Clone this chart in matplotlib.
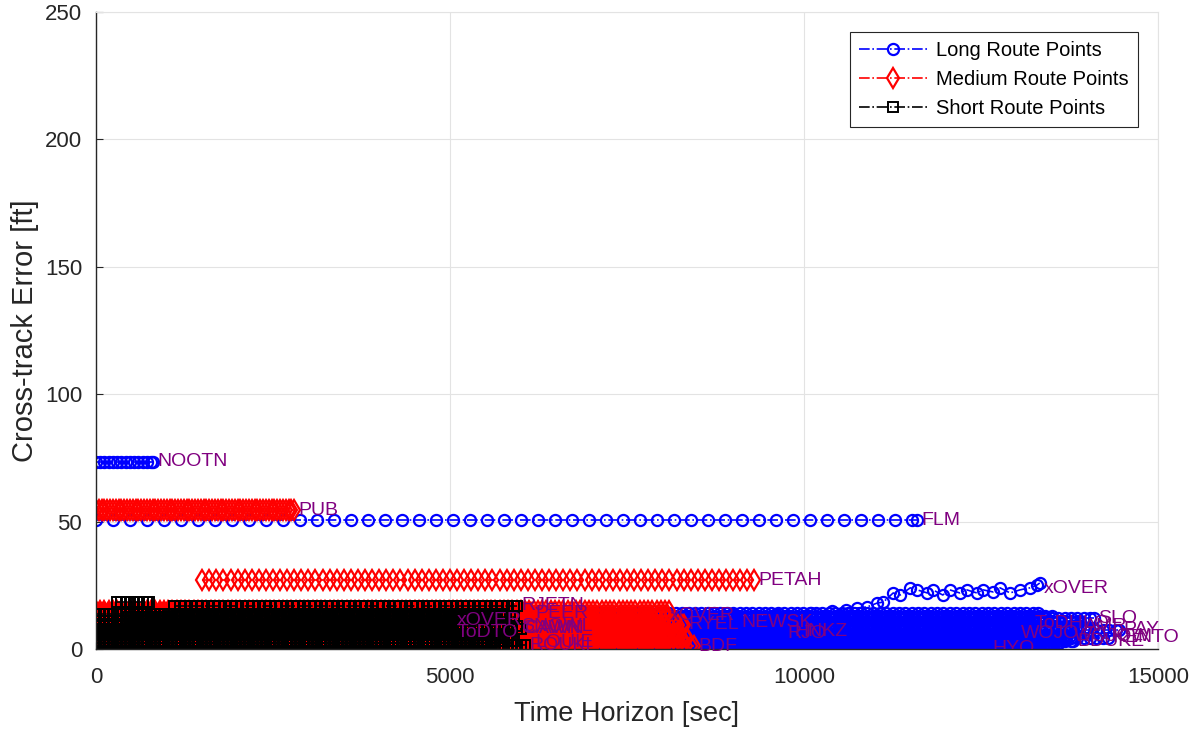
import numpy as np
import matplotlib
matplotlib.use("Agg")
import matplotlib.pyplot as plt
from matplotlib.lines import Line2D

plt.rcParams['font.family'] = ['Liberation Sans', 'DejaVu Sans']

# ---------------- data ----------------
# Long routes: start time, end time, cross-track error level, sample interval, end waypoint
long_t0 = [0, 0, 0, 0, 0, 0, 0, 0, 0, 0, 0, 0, 0, 0, 0, 0, 0, 0, 0, 0, 0]
long_t1 = [800, 11600, 14100, 13200, 13900, 14450, 9800, 9050, 9700, 13000, 13750, 14300,
           13800, 12600, 13300, 13000, 13900, 14000, 13600, 13700, 13500]
long_y = [73.5, 50.5, 12.0, 10.0, 9.0, 7.5, 7.0, 10.5, 6.0, 6.2, 5.0, 4.5,
          3.0, 0.3, 14.0, 1.5, 11.0, 8.3, 2.2, 3.8, 13.0]
long_dt = [60, 240] + [90] * 19
long_label = ['NOOTN', 'FLM', 'SLO', 'ToDHLO', 'AMR', 'PAY', 'HNKZ', 'NEWSK', 'RJO',
              'WOJO', 'WOJOW', 'KENTO', 'BDUKE', 'HYQ', '', '', '', '', '', '', '']

# Long route that drifts off track before its xOVER end point
xover_t = [0, 2000, 4000, 6000, 8000, 9000, 9600, 10100, 10400, 10600, 10750, 10890, 11030,
           11120, 11260, 11360, 11500, 11600, 11740, 11820, 11960, 12060, 12200, 12300,
           12440, 12530, 12670, 12770, 12910, 13050, 13190, 13290, 13330]
xover_y = [13.0, 13.0, 13.0, 13.0, 13.2, 13.5, 13.8, 14.2, 14.8, 15.5, 16.1, 16.5, 18.0,
           18.4, 22.0, 21.2, 24.0, 23.2, 22.0, 23.2, 21.2, 23.2, 22.0, 23.2,
           22.0, 23.2, 22.4, 24.0, 22.0, 23.2, 24.0, 25.1, 25.9]

# Medium routes
med_t0 = [0, 1500, 0, 0, 0, 0, 0, 0, 0, 0, 0, 0, 0, 0, 0]
med_t1 = [2800, 9300, 6150, 8050, 8300, 8450, 7900, 8000, 8200, 8100, 5950, 6150, 8100, 8250, 8350]
med_y = [54.5, 27.0, 14.0, 13.0, 9.5, 1.0, 11.0, 7.5, 5.5, 3.5, 8.0, 2.5, 15.0, 6.5, 4.5]
med_dt = [40, 100] + [60] * 13
med_label = ['PUB', 'PETAH', 'PEER', 'xOVER', 'RYEL', 'BDF', '', '', '', '', 'CAWN', 'LOUIE',
             '', '', '']

# Short routes
short_t0 = [300, 1100, 0, 450, 0, 0, 0, 0, 0, 0, 0, 0, 0, 0]
short_t1 = [750, 5950, 5030, 5900, 5030, 5950, 6000, 5800, 5900, 6060, 5700, 5600, 5850, 5750]
short_y = [18.3, 17.0, 11.0, 12.5, 6.5, 9.0, 8.0, 4.5, 3.0, 1.5, 10.0, 2.2, 5.5, 13.8]
short_dt = [60, 80] + [60] * 12
short_label = ['', 'RJETN', 'xOVER', '', 'ToDTO', 'SNOWL', 'CAWN', '', '', 'ROUKI', '', '', '', '']

series_names = ['Long Route Points', 'Medium Route Points', 'Short Route Points']

# ---------------- figure ----------------
W, H = 1198, 729
fig = plt.figure(figsize=(W / 100, H / 100), dpi=100)
ax = fig.add_axes([96 / W, 1 - 649 / H, (1158 - 96) / W, (649 - 12) / H])

label_color = '#800080'
styles = {
    'long': dict(color='#0000ff', marker='o', ms=8, mfc='none', mew=1.6),
    'med': dict(color='#ff0000', marker='d', ms=10, mfc='none', mew=1.6),
    'short': dict(color='#000000', marker='s', ms=6.5, mfc='none', mew=1.4),
}
LABEL_FS = 14


def draw_routes(t0s, t1s, ys, dts, labels, key):
    st = styles[key]
    for t0, t1, y, dt, lab in zip(t0s, t1s, ys, dts, labels):
        t = np.append(np.arange(t0, t1, dt), t1)
        ax.plot(t, np.full(t.shape, y), linestyle='-.', lw=1.2, zorder=2, **st)
        if lab:
            ax.text(t1 + 60, y, lab, color=label_color, fontsize=LABEL_FS, ha='left',
                    va='center', zorder=10, clip_on=(y < 1))


draw_routes(long_t0, long_t1, long_y, long_dt, long_label, 'long')
ax.plot(xover_t, xover_y, linestyle='-.', lw=1.2, zorder=2, **styles['long'])
ax.text(xover_t[-1] + 60, xover_y[-1] - 2.0, 'xOVER', color=label_color, fontsize=LABEL_FS,
        ha='left', va='center', zorder=10)
draw_routes(med_t0, med_t1, med_y, med_dt, med_label, 'med')
draw_routes(short_t0, short_t1, short_y, short_dt, short_label, 'short')

ax.set_xlim(0, 15000)
ax.set_ylim(0, 250)
ax.set_xticks([0, 5000, 10000, 15000])
ax.set_yticks([0, 50, 100, 150, 200, 250])
ax.grid(True, color='#e3e3e3', lw=0.8)
ax.set_axisbelow(True)
ax.tick_params(direction='in', length=5, labelsize=16, colors='#262626')
ax.tick_params(axis='x', pad=13)
ax.tick_params(axis='y', pad=10)
for s in ['left', 'bottom']:
    ax.spines[s].set_color('#262626')
    ax.spines[s].set_linewidth(1.0)
for s in ['top', 'right']:
    ax.spines[s].set_color('#e3e3e3')
ax.set_xlabel('Time Horizon [sec]', fontsize=19.5, color='#262626', labelpad=9)
ax.set_ylabel('Cross-track Error [ft]', fontsize=21, color='#262626', labelpad=4)

handles = [Line2D([], [], linestyle='-.', lw=1.2, **styles[k]) for k in ['long', 'med', 'short']]
leg = ax.legend(handles, series_names, loc='upper right', fontsize=14.5, frameon=True,
                fancybox=False, edgecolor='#262626', framealpha=1, handlelength=3.4,
                borderaxespad=1.0, labelspacing=0.5, handletextpad=0.45, borderpad=0.45)
leg.get_frame().set_linewidth(0.8)

fig.savefig('out.png', dpi=100)
